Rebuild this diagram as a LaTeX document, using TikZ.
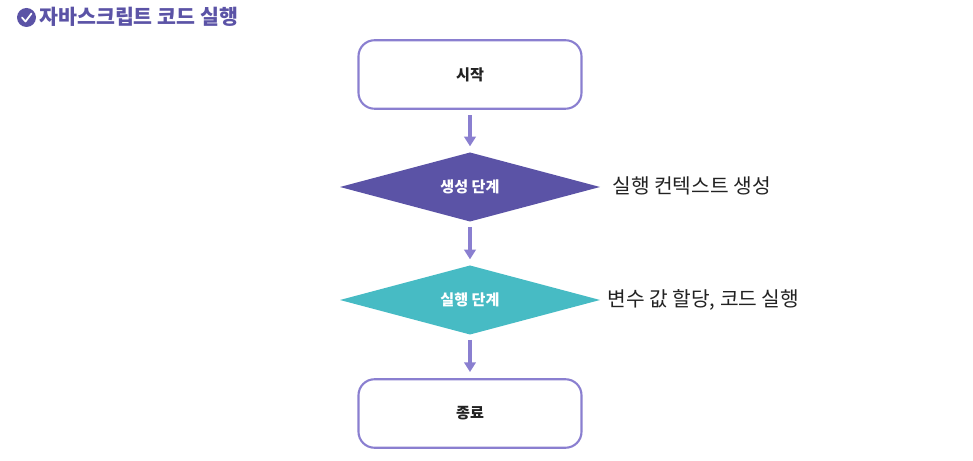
\documentclass[tikz,border=0pt]{standalone}
\usepackage{fontspec}
\usepackage{xcolor}
\usepackage{tikz}
\usetikzlibrary{shapes.geometric,arrows.meta}
\setmainfont{Noto Sans CJK KR}
\definecolor{deep}{HTML}{5B53A6}
\definecolor{teal}{HTML}{47BBC4}
\definecolor{line}{HTML}{8A7FD0}
\definecolor{ink}{HTML}{222222}
\tikzset{
  endbox/.style={draw=line,line width=1.2pt,rounded corners=0.32cm,minimum width=4.46cm,minimum height=1.37cm,text=ink,font=\fontsize{8.6}{10}\selectfont\bfseries},
  stage/.style={diamond,aspect=3.77,inner sep=0pt,outer sep=0pt,minimum width=5.2cm,minimum height=1.38cm,text=white,font=\fontsize{8.6}{10}\selectfont\bfseries},
  note/.style={anchor=west,inner sep=0pt,text=ink,font=\fontsize{11.55}{13}\selectfont},
  flow/.style={draw=line,line width=1.8pt,-{Triangle[width=6.5pt,length=5.5pt]},shorten >=3.5pt,shorten <=3pt}
}
\begin{document}
\begin{tikzpicture}
    \useasboundingbox (0,0) rectangle (19.46,9.22);
    \node[fill=deep,circle,inner sep=0pt,minimum size=0.38cm] (badge) at (0.53,8.87) {};
    \draw[white,line width=1pt,line cap=round,line join=round] (0.44,8.87) -- (0.51,8.79) -- (0.63,8.95);
    \node[anchor=west,inner sep=0pt,text=deep,font=\fontsize{11.7}{13}\selectfont\bfseries] (title) at (0.78,8.89) {자바스크립트 코드 실행};
    \node[endbox] (start) at (9.4,7.73) {시작};
    \node[stage,fill=deep] (create) at (9.4,5.48) {생성 단계};
    \node[stage,fill=teal] (run) at (9.4,3.22) {실행 단계};
    \node[endbox] (finish) at (9.4,0.95) {종료};
    \node[note] (createnote) at (12.24,5.50) {실행 컨텍스트 생성};
    \node[note] (runnote) at (12.14,3.23) {변수 값 할당, 코드 실행};
    \draw[flow] (start) -- (create);
    \draw[flow] (create) -- (run);
    \draw[flow] (run) -- (finish);
\end{tikzpicture}
\end{document}
